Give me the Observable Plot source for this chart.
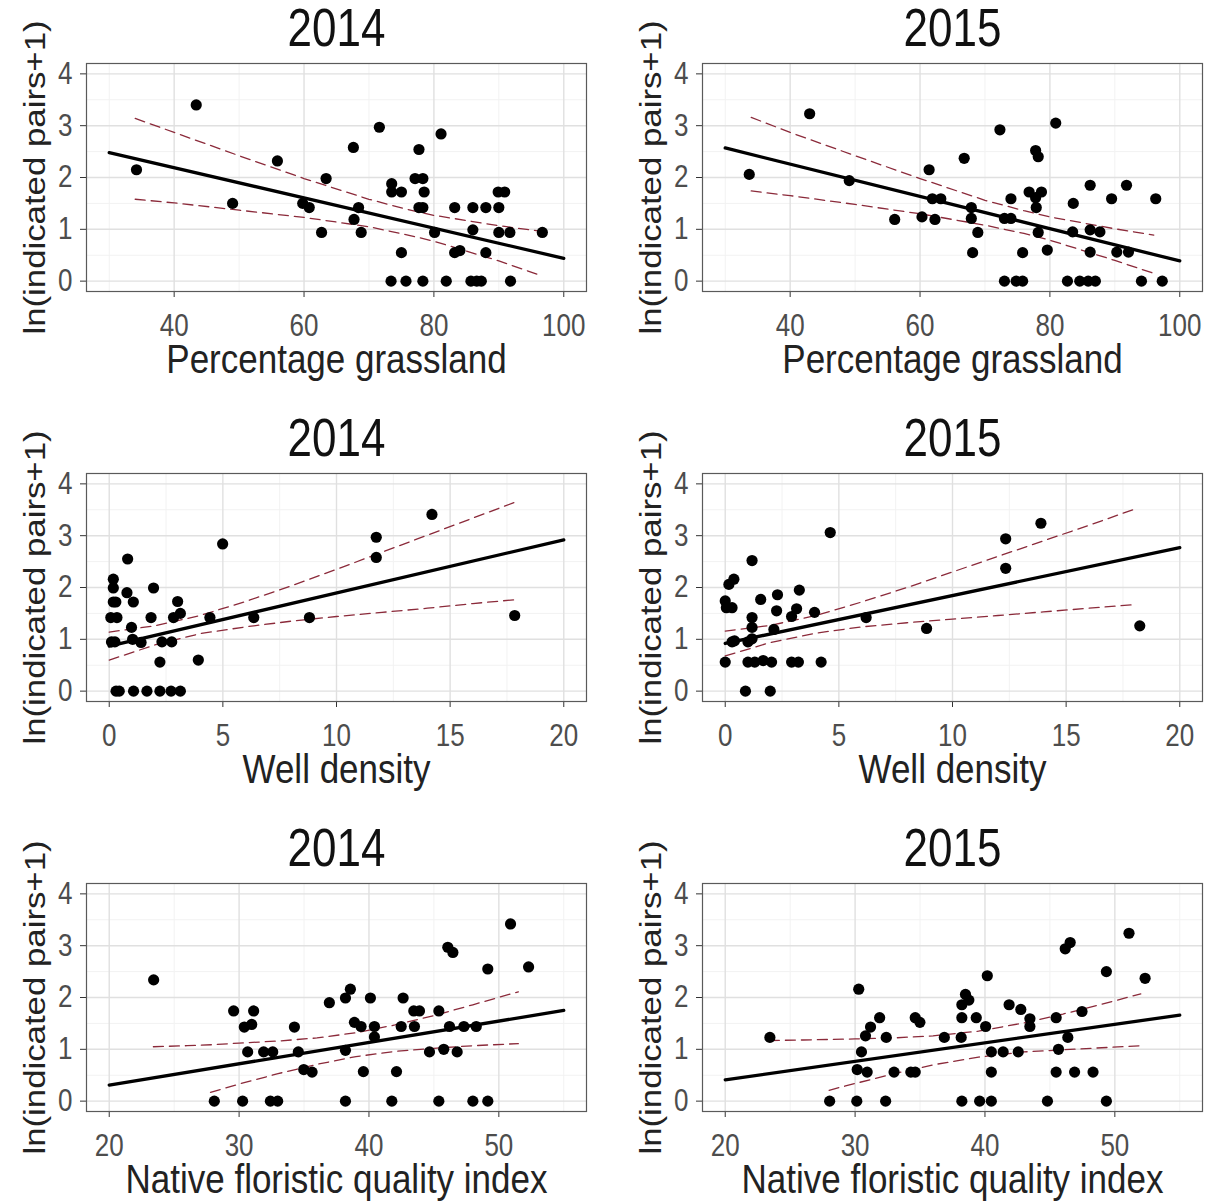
<!DOCTYPE html>
<html><head><meta charset="utf-8">
<script src="https://cdn.jsdelivr.net/npm/d3@7"></script>
<script src="https://cdn.jsdelivr.net/npm/@observablehq/plot@0.6"></script>
<style>
body{margin:0;background:#fff;}
#wrap{position:relative;width:1206px;height:1202px;overflow:hidden;background:#fff;}
.panel{position:absolute;}
</style></head><body><div id="wrap"></div>
<script>
// ---------- shared ----------
const yLabel = "ln(indicated pairs+1)";
const yTicks = [0, 1, 2, 3, 4];
const yMinor = [0.5, 1.5, 2.5, 3.5];

// ---------- Percentage grassland ----------
const grassTicks = [40, 60, 80, 100];
const grassMinor = [30, 50, 70, 90];
const grass14X = [34.2,43.4,49.0,55.9,59.8,60.8,62.7,63.4,67.6,68.4,67.7,68.8,71.6,73.5,73.5,75.0,75.0,73.4,75.7,77.7,77.1,78.3,78.5,77.7,78.3,78.3,81.1,80.1,81.9,83.2,83.2,84.0,86.0,88.0,86.0,88.0,85.7,86.6,87.3,89.9,90.9,90.0,90.0,91.7,91.8,96.7];
const grass14Y = [2.15,3.40,1.50,2.32,1.50,1.42,0.94,1.98,2.58,1.42,1.19,0.94,2.97,1.88,1.72,1.72,0.55,0,0,2.54,1.98,1.98,1.72,1.42,1.42,0,2.84,0.94,0,1.42,0.55,0.59,1.42,1.42,0.99,0.55,0,0,0,1.72,1.72,1.42,0.94,0.94,0,0.94];
const grass15X = [33.7,43.0,49.1,56.1,60.3,62.3,61.4,61.9,63.2,66.8,67.9,67.9,68.9,68.1,72.3,74.0,73.0,74.0,73.0,74.8,75.8,75.8,77.8,78.2,76.8,78.7,77.8,77.9,78.2,79.6,80.9,82.7,83.6,83.5,86.2,86.2,87.7,86.2,84.6,85.9,87.0,89.5,91.8,90.3,92.1,94.1,96.3,97.3];
const grass15Y = [2.06,3.23,1.94,1.19,1.24,1.19,2.15,1.59,1.59,2.37,1.42,1.21,0.94,0.55,2.92,1.59,1.21,1.21,0,0,0,0.55,2.52,2.40,1.72,1.72,1.61,1.42,0.94,0.60,3.05,0,1.50,0.95,1.85,0.99,0.95,0.56,0,0,0,1.59,1.85,0.56,0.56,0,1.59,0];
const grassFitX = [30, 100];
const grass14Fit = [2.48, 0.44];
const grass15Fit = [2.57, 0.39];
const grassBandX = [34, 40, 50, 60, 70, 76, 80, 90, 96];
const grass14Up = [3.14, 2.87, 2.42, 1.98, 1.58, 1.38, 1.27, 1.07, 0.97];
const grass14Lo = [1.58, 1.51, 1.37, 1.23, 1.05, 0.89, 0.77, 0.39, 0.13];
const grass15Up = [3.16, 2.87, 2.42, 1.98, 1.56, 1.36, 1.24, 1.01, 0.89];
const grass15Lo = [1.74, 1.65, 1.48, 1.30, 1.08, 0.92, 0.79, 0.40, 0.15];

// ---------- Well density ----------
const wellTicks = [0, 5, 10, 15, 20];
const wellMinor = [2.5, 7.5, 12.5, 17.5];
const well14X = [0.18,0.18,0.18,0.29,0.07,0.34,0.10,0.25,0.30,0.44,0.81,0.78,1.06,0.98,1.03,1.40,1.07,1.66,1.95,1.84,2.32,2.23,2.23,2.72,3.13,3.01,2.83,3.13,2.75,3.92,4.43,4.99,6.36,8.81,11.75,11.75,14.2,17.84];
const well14Y = [2.16,1.99,1.72,1.72,1.42,1.42,0.95,0.95,0,0,2.55,1.90,1.72,1.23,1.00,0.94,0,0,1.99,1.42,0.95,0.56,0,0,0,1.73,1.42,1.50,0.95,0.60,1.42,2.84,1.42,1.42,2.97,2.58,3.41,1.46];
const well15X = [0.0,0.05,0.3,0.16,0.38,0.0,0.3,0.41,1.18,1.18,1.18,1.0,1.18,1.0,1.3,1.67,2.04,0.89,1.98,1.56,2.30,2.26,2.14,2.92,3.14,3.26,2.92,3.22,3.93,4.22,4.62,6.2,8.86,12.34,12.34,13.89,18.24];
const well15Y = [1.74,1.61,1.61,2.06,2.16,0.56,0.95,0.97,2.52,1.42,1.23,0.95,1.01,0.56,0.56,0.59,0.56,0,0,1.77,1.86,1.55,1.19,1.44,1.59,1.95,0.56,0.56,1.52,0.56,3.06,1.42,1.21,2.94,2.37,3.24,1.26];
const wellFitX = [0, 20];
const well14Fit = [0.87, 2.92];
const well15Fit = [0.92, 2.77];
const wellBandX = [0, 2, 4, 6, 8, 10, 12, 14, 16, 18];
const well14Up = [1.14, 1.26, 1.46, 1.73, 2.03, 2.35, 2.68, 3.01, 3.34, 3.67];
const well14Lo = [0.60, 0.89, 1.11, 1.24, 1.35, 1.44, 1.52, 1.60, 1.69, 1.77];
const well15Up = [1.16, 1.27, 1.46, 1.72, 2.00, 2.30, 2.60, 2.90, 3.20, 3.51];
const well15Lo = [0.68, 0.94, 1.12, 1.24, 1.32, 1.39, 1.46, 1.53, 1.60, 1.67];

// ---------- Native floristic quality index ----------
const nfqiTicks = [20, 30, 40, 50];
const nfqiMinor = [25, 35, 45, 55];
const nfqi14X = [23.42,29.58,30.40,30.97,31.12,30.66,28.09,30.27,31.89,32.59,32.41,32.97,34.26,34.56,34.98,35.62,36.95,38.19,38.57,38.88,39.39,38.19,38.19,39.57,40.11,40.42,40.42,41.76,42.12,42.63,42.48,43.45,43.89,43.50,44.66,45.38,45.38,45.76,46.07,46.46,46.20,46.79,47.31,48.26,48.0,49.15,49.15,50.9,52.29];
const nfqi14Y = [2.34,1.74,1.43,1.48,1.74,0.95,0,0,0.95,0.95,0,0,1.43,0.95,0.61,0.56,1.90,1.99,2.16,1.52,1.44,0.98,0,0.57,1.99,1.44,1.24,0,0.57,1.99,1.44,1.74,1.74,1.44,0.95,1.74,0,1.0,2.97,2.87,1.44,0.95,1.44,1.44,0,0,2.55,3.42,2.59];
const nfqi15X = [23.44,28.04,30.13,30.28,30.49,30.16,30.93,30.8,31.19,31.89,32.40,32.35,33.0,34.29,34.63,34.63,34.99,36.87,38.17,38.22,38.22,38.5,38.76,38.22,39.33,39.59,40.49,40.05,40.18,40.49,41.40,40.49,41.86,42.56,42.76,43.46,43.46,44.81,45.48,45.48,45.66,46.18,46.56,46.38,46.9,47.47,48.32,49.35,49.35,51.09,52.33];
const nfqi15Y = [1.23,0,0,2.16,0.95,0.61,0.56,1.26,1.43,1.61,1.23,0,0.56,0.56,0.56,1.61,1.52,1.23,1.23,1.61,1.86,2.06,1.95,0,1.61,0,0,1.44,2.42,0.95,0.95,0.56,1.86,0.95,1.77,1.59,1.44,0,1.61,0.56,1.0,2.94,3.06,1.23,0.56,1.73,0.56,2.50,0,3.24,2.37];
const nfqiFitX = [20, 55];
const nfqi14Fit = [0.31, 1.75];
const nfqi15Fit = [0.41, 1.66];
const nfqi14UpX = [23.4, 26, 28, 30, 33, 36, 39, 42, 45, 48, 51.5];
const nfqi14Up = [1.05, 1.07, 1.09, 1.12, 1.16, 1.22, 1.32, 1.47, 1.65, 1.86, 2.11];
const nfqi14LoX = [27.8, 30, 33, 36, 39, 42, 45, 48, 51.5];
const nfqi14Lo = [0.17, 0.33, 0.53, 0.71, 0.86, 0.96, 1.02, 1.07, 1.11];
const nfqi15UpX = [23.4, 26, 28, 30, 33, 36, 39.5, 43, 46, 49, 52];
const nfqi15Up = [1.17, 1.18, 1.19, 1.20, 1.22, 1.26, 1.35, 1.51, 1.68, 1.87, 2.07];
const nfqi15LoX = [28, 30, 33, 36, 39.5, 43, 46, 49, 52];
const nfqi15Lo = [0.21, 0.34, 0.53, 0.70, 0.85, 0.95, 0.99, 1.03, 1.07];

// ---------- build ----------
const zip = (a, b) => a.map((v, i) => ({x: v, y: b[i]}));
const panels = [
  {title:"2014", xlabel:"Percentage grassland", xDomain:[26.5,103.5], ticks:grassTicks, minor:grassMinor,
   pts:zip(grass14X,grass14Y), fit:zip(grassFitX,grass14Fit), up:zip(grassBandX,grass14Up), lo:zip(grassBandX,grass14Lo)},
  {title:"2015", xlabel:"Percentage grassland", xDomain:[26.5,103.5], ticks:grassTicks, minor:grassMinor,
   pts:zip(grass15X,grass15Y), fit:zip(grassFitX,grass15Fit), up:zip(grassBandX,grass15Up), lo:zip(grassBandX,grass15Lo)},
  {title:"2014", xlabel:"Well density", xDomain:[-1,21], ticks:wellTicks, minor:wellMinor,
   pts:zip(well14X,well14Y), fit:zip(wellFitX,well14Fit), up:zip(wellBandX,well14Up), lo:zip(wellBandX,well14Lo)},
  {title:"2015", xlabel:"Well density", xDomain:[-1,21], ticks:wellTicks, minor:wellMinor,
   pts:zip(well15X,well15Y), fit:zip(wellFitX,well15Fit), up:zip(wellBandX,well15Up), lo:zip(wellBandX,well15Lo)},
  {title:"2014", xlabel:"Native floristic quality index", xDomain:[18.25,56.75], ticks:nfqiTicks, minor:nfqiMinor,
   pts:zip(nfqi14X,nfqi14Y), fit:zip(nfqiFitX,nfqi14Fit), up:zip(nfqi14UpX,nfqi14Up), lo:zip(nfqi14LoX,nfqi14Lo)},
  {title:"2015", xlabel:"Native floristic quality index", xDomain:[18.25,56.75], ticks:nfqiTicks, minor:nfqiMinor,
   pts:zip(nfqi15X,nfqi15Y), fit:zip(nfqiFitX,nfqi15Fit), up:zip(nfqi15UpX,nfqi15Up), lo:zip(nfqi15LoX,nfqi15Lo)}
];

const FONT = '"Liberation Sans", Arial, sans-serif';
const bandColor = "#8b2a3a";
const wrap = document.getElementById("wrap");
const xLabels = new Set(panels.map(p => p.xlabel));

// the reference's lettering is stretched vertically; reproduce that on each text
function stretchText(svg) {
  const isNum = v => v != null && /^-?[\d.]+$/.test(v);
  svg.querySelectorAll("text").forEach(t => {
    const tr = t.getAttribute("transform") || "";
    const xa = t.getAttribute("x"), ya = t.getAttribute("y");
    let tx = 0, ty = 0;
    if (isNum(xa)) { tx = +xa; t.removeAttribute("x"); }
    if (isNum(ya)) { ty = +ya; t.removeAttribute("y"); }
    const rot = /rotate/.test(tr);
    const k = xLabels.has(t.textContent) ? 1.14 : 1.2;
    t.setAttribute("transform", (tr + ` translate(${tx},${ty}) ` + (rot ? `scale(${k},1)` : `scale(1,${k})`)).trim());
  });
}

panels.forEach((p, i) => {
  const col = i % 2, row = Math.floor(i / 2);
  const chart = Plot.plot({
    width: 590, height: 410,
    marginLeft: 86, marginRight: 4, marginTop: 63, marginBottom: 119,
    style: {fontFamily: FONT, fontSize: "26px", background: "white", overflow: "visible"},
    x: {domain: p.xDomain},
    y: {domain: [-0.2, 4.2]},
    marks: [
      Plot.gridX(p.minor, {stroke: "#f2f2f2", strokeOpacity: 1, strokeWidth: 1}),
      Plot.gridY(yMinor, {stroke: "#f2f2f2", strokeOpacity: 1, strokeWidth: 1}),
      Plot.gridX(p.ticks, {stroke: "#e0e0e0", strokeOpacity: 1, strokeWidth: 1.4}),
      Plot.gridY(yTicks, {stroke: "#e0e0e0", strokeOpacity: 1, strokeWidth: 1.4}),
      Plot.axisX(p.ticks, {label: null, tickSize: 6, tickPadding: 16, stroke: "#333", fill: "#4d4d4d", tickFormat: d => String(d)}),
      Plot.axisY(yTicks, {label: null, tickSize: 6, tickPadding: 8, stroke: "#333", fill: "#4d4d4d", tickFormat: d => String(d)}),
      Plot.line(p.up, {x: "x", y: "y", stroke: bandColor, strokeWidth: 1.3, strokeDasharray: "10,6"}),
      Plot.line(p.lo, {x: "x", y: "y", stroke: bandColor, strokeWidth: 1.3, strokeDasharray: "10,6"}),
      Plot.dot(p.pts, {x: "x", y: "y", r: 5.6, fill: "black", stroke: "none"}),
      Plot.line(p.fit, {x: "x", y: "y", stroke: "black", strokeWidth: 3.3}),
      Plot.frame({stroke: "#5a5a5a", strokeWidth: 1.2}),
      Plot.text([p.title], {frameAnchor: "top", dy: -34, fontSize: 44, fontFamily: FONT, fill: "#111", textAnchor: "middle", lineAnchor: "middle"}),
      Plot.text([p.xlabel], {frameAnchor: "bottom", dy: 69, fontSize: 35, fontFamily: FONT, fill: "#222", textAnchor: "middle", lineAnchor: "middle"}),
      Plot.text([yLabel], {frameAnchor: "left", dx: -51, rotate: -90, fontSize: 29, fontFamily: FONT, fill: "#222", textAnchor: "middle", lineAnchor: "middle"})
    ]
  });
  stretchText(chart);
  const div = document.createElement("div");
  div.className = "panel";
  div.style.left = (col * 616) + "px";
  div.style.top = (row * 410) + "px";
  div.appendChild(chart);
  wrap.appendChild(div);
});
</script>
</body></html>
